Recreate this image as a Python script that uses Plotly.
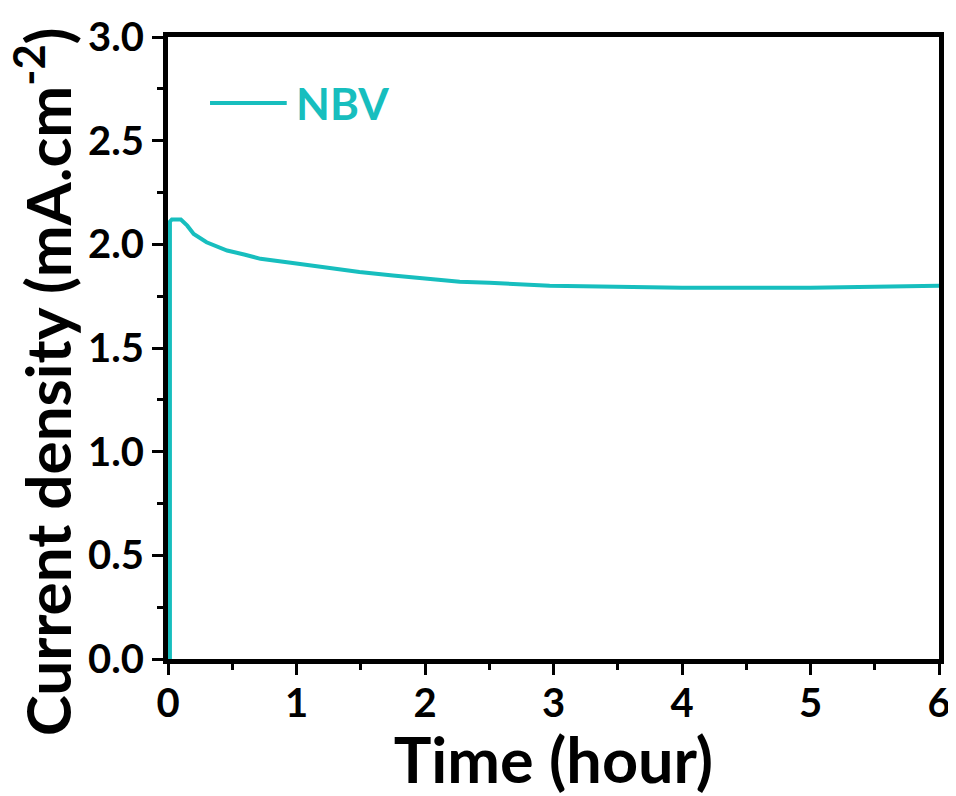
import plotly.graph_objects as go

# Data
time_hour = [0.015, 0.015, 0.03, 0.06, 0.1, 0.15, 0.2, 0.3, 0.46, 0.6, 0.72, 0.97, 1.24,
             1.49, 1.75, 2.02, 2.27, 2.5, 2.97, 3.49, 4.0, 4.53, 5.0, 5.5, 6.0]
current_density = [0.0, 2.11, 2.12, 2.12, 2.12, 2.09, 2.05, 2.01, 1.97, 1.95, 1.93, 1.91, 1.886,
                   1.867, 1.85, 1.833, 1.82, 1.815, 1.80, 1.795, 1.79, 1.79, 1.79, 1.795, 1.80]
series_name = "NBV"
x_title = "Time (hour)"
y_title = "Current density (mA.cm<sup>-2</sup>)"

x_ticks = [0, 1, 2, 3, 4, 5, 6]
y_ticks = [0.0, 0.5, 1.0, 1.5, 2.0, 2.5, 3.0]
y_tick_text = ["0.0", "0.5", "1.0", "1.5", "2.0", "2.5", "3.0"]

cyan = "#17bebe"
font_family = "Lato"

fig = go.Figure()
fig.add_trace(go.Scatter(
    x=time_hour, y=current_density, mode="lines", name=series_name,
    line=dict(color=cyan, width=4), showlegend=False,
))

# legend drawn as a long sample line plus label (as in the reference)
fig.add_shape(type="line", xref="paper", yref="paper",
              x0=0.0545, x1=0.154, y0=0.894, y1=0.894,
              line=dict(color=cyan, width=4))
fig.add_annotation(xref="paper", yref="paper", x=0.163, y=0.894,
                   xanchor="left", yanchor="middle", showarrow=False,
                   text=series_name,
                   font=dict(family=font_family, size=44, color=cyan, weight="bold"))

# y-axis title (placed like the reference, slightly below the axis centre)
fig.add_annotation(xref="paper", yref="paper", x=-0.162, y=0.445,
                   xanchor="center", yanchor="middle", showarrow=False,
                   textangle=-90, text=y_title,
                   font=dict(family=font_family, size=62, color="black", weight="bold"))

axis_common = dict(
    showline=True, linecolor="black", linewidth=5, mirror=True,
    showgrid=False, zeroline=False, automargin=False,
    ticks="outside", ticklen=11, tickwidth=3, tickcolor="black",
    ticklabeloverflow="allow",
    tickfont=dict(family=font_family, size=40, color="black", weight="bold"),
)

fig.update_layout(
    width=948, height=788,
    margin=dict(l=160, r=17, t=29, b=137),
    paper_bgcolor="white", plot_bgcolor="white",
    font=dict(family=font_family, color="black"),
    xaxis=dict(
        range=[0, 6], tickvals=x_ticks, ticklabelstandoff=-6,
        minor=dict(dtick=0.5, ticks="outside", ticklen=6, tickwidth=3, tickcolor="black"),
        title=dict(text=x_title, font=dict(family=font_family, size=63, color="black", weight="bold"), standoff=18),
        **axis_common,
    ),
    yaxis=dict(
        range=[0, 3], tickvals=y_ticks, ticktext=y_tick_text,
        minor=dict(dtick=0.25, ticks="outside", ticklen=6, tickwidth=3, tickcolor="black"),
        **axis_common,
    ),
)

fig.write_html("out.html")
